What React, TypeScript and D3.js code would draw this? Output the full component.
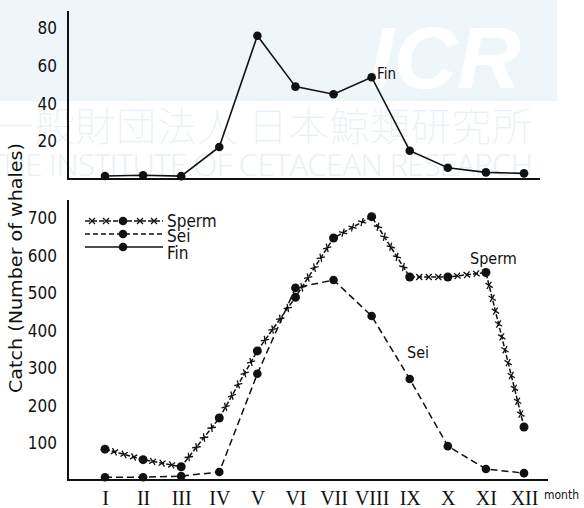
import { useRef, useEffect } from "react";
import * as d3 from "d3";

// months on the x axis
const months = ["I", "II", "III", "IV", "V", "VI", "VII", "VIII", "IX", "X", "XI", "XII"];

// catch per month (number of whales)
const finCatch = [1.6, 2, 1.5, 17, 76, 49, 45, 54, 15, 6, 3.5, 3];
const spermCatch = [85, 57, 38, 168, 347, 490, 648, 705, 544, 544, 556, 144];
const seiCatch = [10, 10, 13, 24, 286, 515, 536, 440, 272, 93, 32, 21];

const topTicks = [20, 40, 60, 80];
const bottomTicks = [100, 200, 300, 400, 500, 600, 700];

const numFont = "'DejaVu Sans Condensed', 'DejaVu Sans', sans-serif";
const romanFont = "'Liberation Serif', 'DejaVu Serif', serif";

const App = () => {
  const svgRef = useRef<SVGSVGElement>(null);

  useEffect(() => {
    const svg = d3.select(svgRef.current);
    svg.selectAll("*").remove();

    // watermark
    const wm = svg.append("g");
    wm.append("rect").attr("x", 0).attr("y", 0).attr("width", 557).attr("height", 101).attr("fill", "#eff6fa");
    wm.append("text")
      .attr("x", 445).attr("y", 88)
      .attr("text-anchor", "middle")
      .attr("font-family", "'Liberation Sans', Arial, sans-serif")
      .attr("font-weight", "bold").attr("font-style", "italic")
      .attr("font-size", 88).attr("fill", "#ffffff")
      .text("ICR");
    wm.append("text")
      .attr("x", -6).attr("y", 141)
      .attr("font-family", "'Noto Sans CJK JP', sans-serif")
      .attr("font-weight", 100)
      .attr("font-size", 40).attr("fill", "#e8f1f7")
      .attr("textLength", 538)
      .text("一般財団法人 日本鯨類研究所");
    wm.append("text")
      .attr("x", -12).attr("y", 176)
      .attr("font-family", "'Open Sans', sans-serif")
      .attr("font-weight", 300)
      .attr("font-size", 31).attr("fill", "#e8f1f7")
      .attr("textLength", 545)
      .text("THE INSTITUTE OF CETACEAN RESEARCH");

    const x = d3.scalePoint<string>().domain(months).range([105, 524]);
    const yTop = d3.scaleLinear().domain([0, 80]).range([179, 28.2]);
    const yBot = d3.scaleLinear().domain([0, 700]).range([481, 218.5]);

    // ---- top panel (Fin) ----
    const top = svg.append("g");
    top.append("line").attr("x1", 68).attr("x2", 68).attr("y1", 11).attr("y2", 180)
      .attr("stroke", "#111").attr("stroke-width", 2);
    top.append("line").attr("x1", 67).attr("x2", 540).attr("y1", 179).attr("y2", 179)
      .attr("stroke", "#111").attr("stroke-width", 2);
    const topAxis = d3.axisLeft(yTop).tickValues(topTicks).tickSize(0).tickPadding(11);
    const ta = top.append("g").attr("transform", "translate(68,0)").call(topAxis);
    ta.select(".domain").remove();
    ta.selectAll("text").attr("font-family", numFont).attr("font-size", 17).attr("fill", "#111");

    const line = d3.line<number>().x((_, i) => x(months[i])!);
    top.append("path")
      .datum(finCatch)
      .attr("d", line.y((d) => yTop(d)))
      .attr("fill", "none").attr("stroke", "#111").attr("stroke-width", 1.6);
    top.selectAll("circle").data(finCatch).join("circle")
      .attr("cx", (_, i) => x(months[i])!).attr("cy", (d) => yTop(d))
      .attr("r", 4.3).attr("fill", "#111");
    top.append("text").attr("x", 377).attr("y", 79)
      .attr("font-family", numFont).attr("font-size", 15).attr("fill", "#111").text("Fin");

    // ---- bottom panel ----
    const bot = svg.append("g");
    bot.append("line").attr("x1", 68).attr("x2", 68).attr("y1", 200).attr("y2", 481)
      .attr("stroke", "#111").attr("stroke-width", 2);
    bot.append("line").attr("x1", 67).attr("x2", 548).attr("y1", 480).attr("y2", 480)
      .attr("stroke", "#111").attr("stroke-width", 2);
    const botAxis = d3.axisLeft(yBot).tickValues(bottomTicks).tickSize(0).tickPadding(11);
    const ba = bot.append("g").attr("transform", "translate(68,0)").call(botAxis);
    ba.select(".domain").remove();
    ba.selectAll("text").attr("font-family", numFont).attr("font-size", 17).attr("fill", "#111");

    const xAxis = d3.axisBottom(x).tickSize(0).tickPadding(8);
    const xa = bot.append("g").attr("transform", "translate(0,483)").call(xAxis);
    xa.select(".domain").remove();
    xa.selectAll("text").attr("font-family", romanFont).attr("font-size", 20).attr("fill", "#111");
    bot.append("text").attr("x", 544).attr("y", 499)
      .attr("font-family", numFont).attr("font-size", 12).attr("fill", "#111").text("month");

    // Sei
    bot.append("path")
      .datum(seiCatch)
      .attr("d", line.y((d) => yBot(d)))
      .attr("fill", "none").attr("stroke", "#111").attr("stroke-width", 1.5)
      .attr("stroke-dasharray", "7,4");
    bot.append("g").selectAll("circle").data(seiCatch).join("circle")
      .attr("cx", (_, i) => x(months[i])!).attr("cy", (d) => yBot(d))
      .attr("r", 4.3).attr("fill", "#111");

    // Sperm
    bot.append("path")
      .datum(spermCatch)
      .attr("d", line.y((d) => yBot(d)))
      .attr("fill", "none").attr("stroke", "#111").attr("stroke-width", 1.5)
      .attr("stroke-dasharray", "5,2");
    const crosses: { cx: number; cy: number; a: number }[] = [];
    for (let i = 0; i < spermCatch.length - 1; i++) {
      const x0 = x(months[i])!, y0 = yBot(spermCatch[i]);
      const x1 = x(months[i + 1])!, y1 = yBot(spermCatch[i + 1]);
      const len = Math.hypot(x1 - x0, y1 - y0);
      const n = Math.max(2, Math.round(len / 15));
      const a = Math.atan2(y1 - y0, x1 - x0);
      for (let k = 1; k <= n; k++) {
        const t = k / (n + 1);
        crosses.push({ cx: x0 + (x1 - x0) * t, cy: y0 + (y1 - y0) * t, a });
      }
    }
    bot.append("g").selectAll("path").data(crosses).join("path")
      .attr("d", "M-3,-3L3,3M-3,3L3,-3")
      .attr("transform", (d) => `translate(${d.cx},${d.cy}) rotate(${(d.a * 180) / Math.PI})`)
      .attr("stroke", "#111").attr("stroke-width", 1.3);
    bot.append("g").selectAll("circle").data(spermCatch).join("circle")
      .attr("cx", (_, i) => x(months[i])!).attr("cy", (d) => yBot(d))
      .attr("r", 4.5).attr("fill", "#111");

    bot.append("text").attr("x", 470).attr("y", 264)
      .attr("font-family", numFont).attr("font-size", 16).attr("fill", "#111").text("Sperm");
    bot.append("text").attr("x", 407).attr("y", 358)
      .attr("font-family", numFont).attr("font-size", 16).attr("fill", "#111").text("Sei");

    // legend
    const legend = [
      { name: "Sperm", y: 221, dash: "5,2", cross: true, ty: 227 },
      { name: "Sei", y: 234, dash: "5,3", cross: false, ty: 242 },
      { name: "Fin", y: 247, dash: "", cross: false, ty: 259 },
    ];
    const lg = bot.append("g");
    legend.forEach((l) => {
      lg.append("line").attr("x1", 85).attr("x2", 163).attr("y1", l.y).attr("y2", l.y)
        .attr("stroke", "#111").attr("stroke-width", 1.5)
        .attr("stroke-dasharray", l.dash || null);
      if (l.cross) {
        [92, 106, 140, 154].forEach((cx) => {
          lg.append("path").attr("d", `M${cx - 3},${l.y - 3}L${cx + 3},${l.y + 3}M${cx - 3},${l.y + 3}L${cx + 3},${l.y - 3}`)
            .attr("stroke", "#111").attr("stroke-width", 1.3);
        });
      }
      lg.append("circle").attr("cx", 123).attr("cy", l.y).attr("r", 4.3).attr("fill", "#111");
      lg.append("text").attr("x", 167).attr("y", l.ty)
        .attr("font-family", numFont).attr("font-size", 17).attr("fill", "#111").text(l.name);
    });

    // y axis title
    svg.append("text")
      .attr("transform", "translate(22,268) rotate(-90)")
      .attr("text-anchor", "middle")
      .attr("font-family", numFont).attr("font-size", 18).attr("fill", "#111")
      .attr("textLength", 250).attr("lengthAdjust", "spacingAndGlyphs")
      .text("Catch (Number of whales)");
  }, []);

  return (
    <svg
      ref={svgRef}
      width={584}
      height={508}
      style={{ position: "absolute", left: 0, top: 0, background: "#fff" }}
    ></svg>
  );
};

export default App;
